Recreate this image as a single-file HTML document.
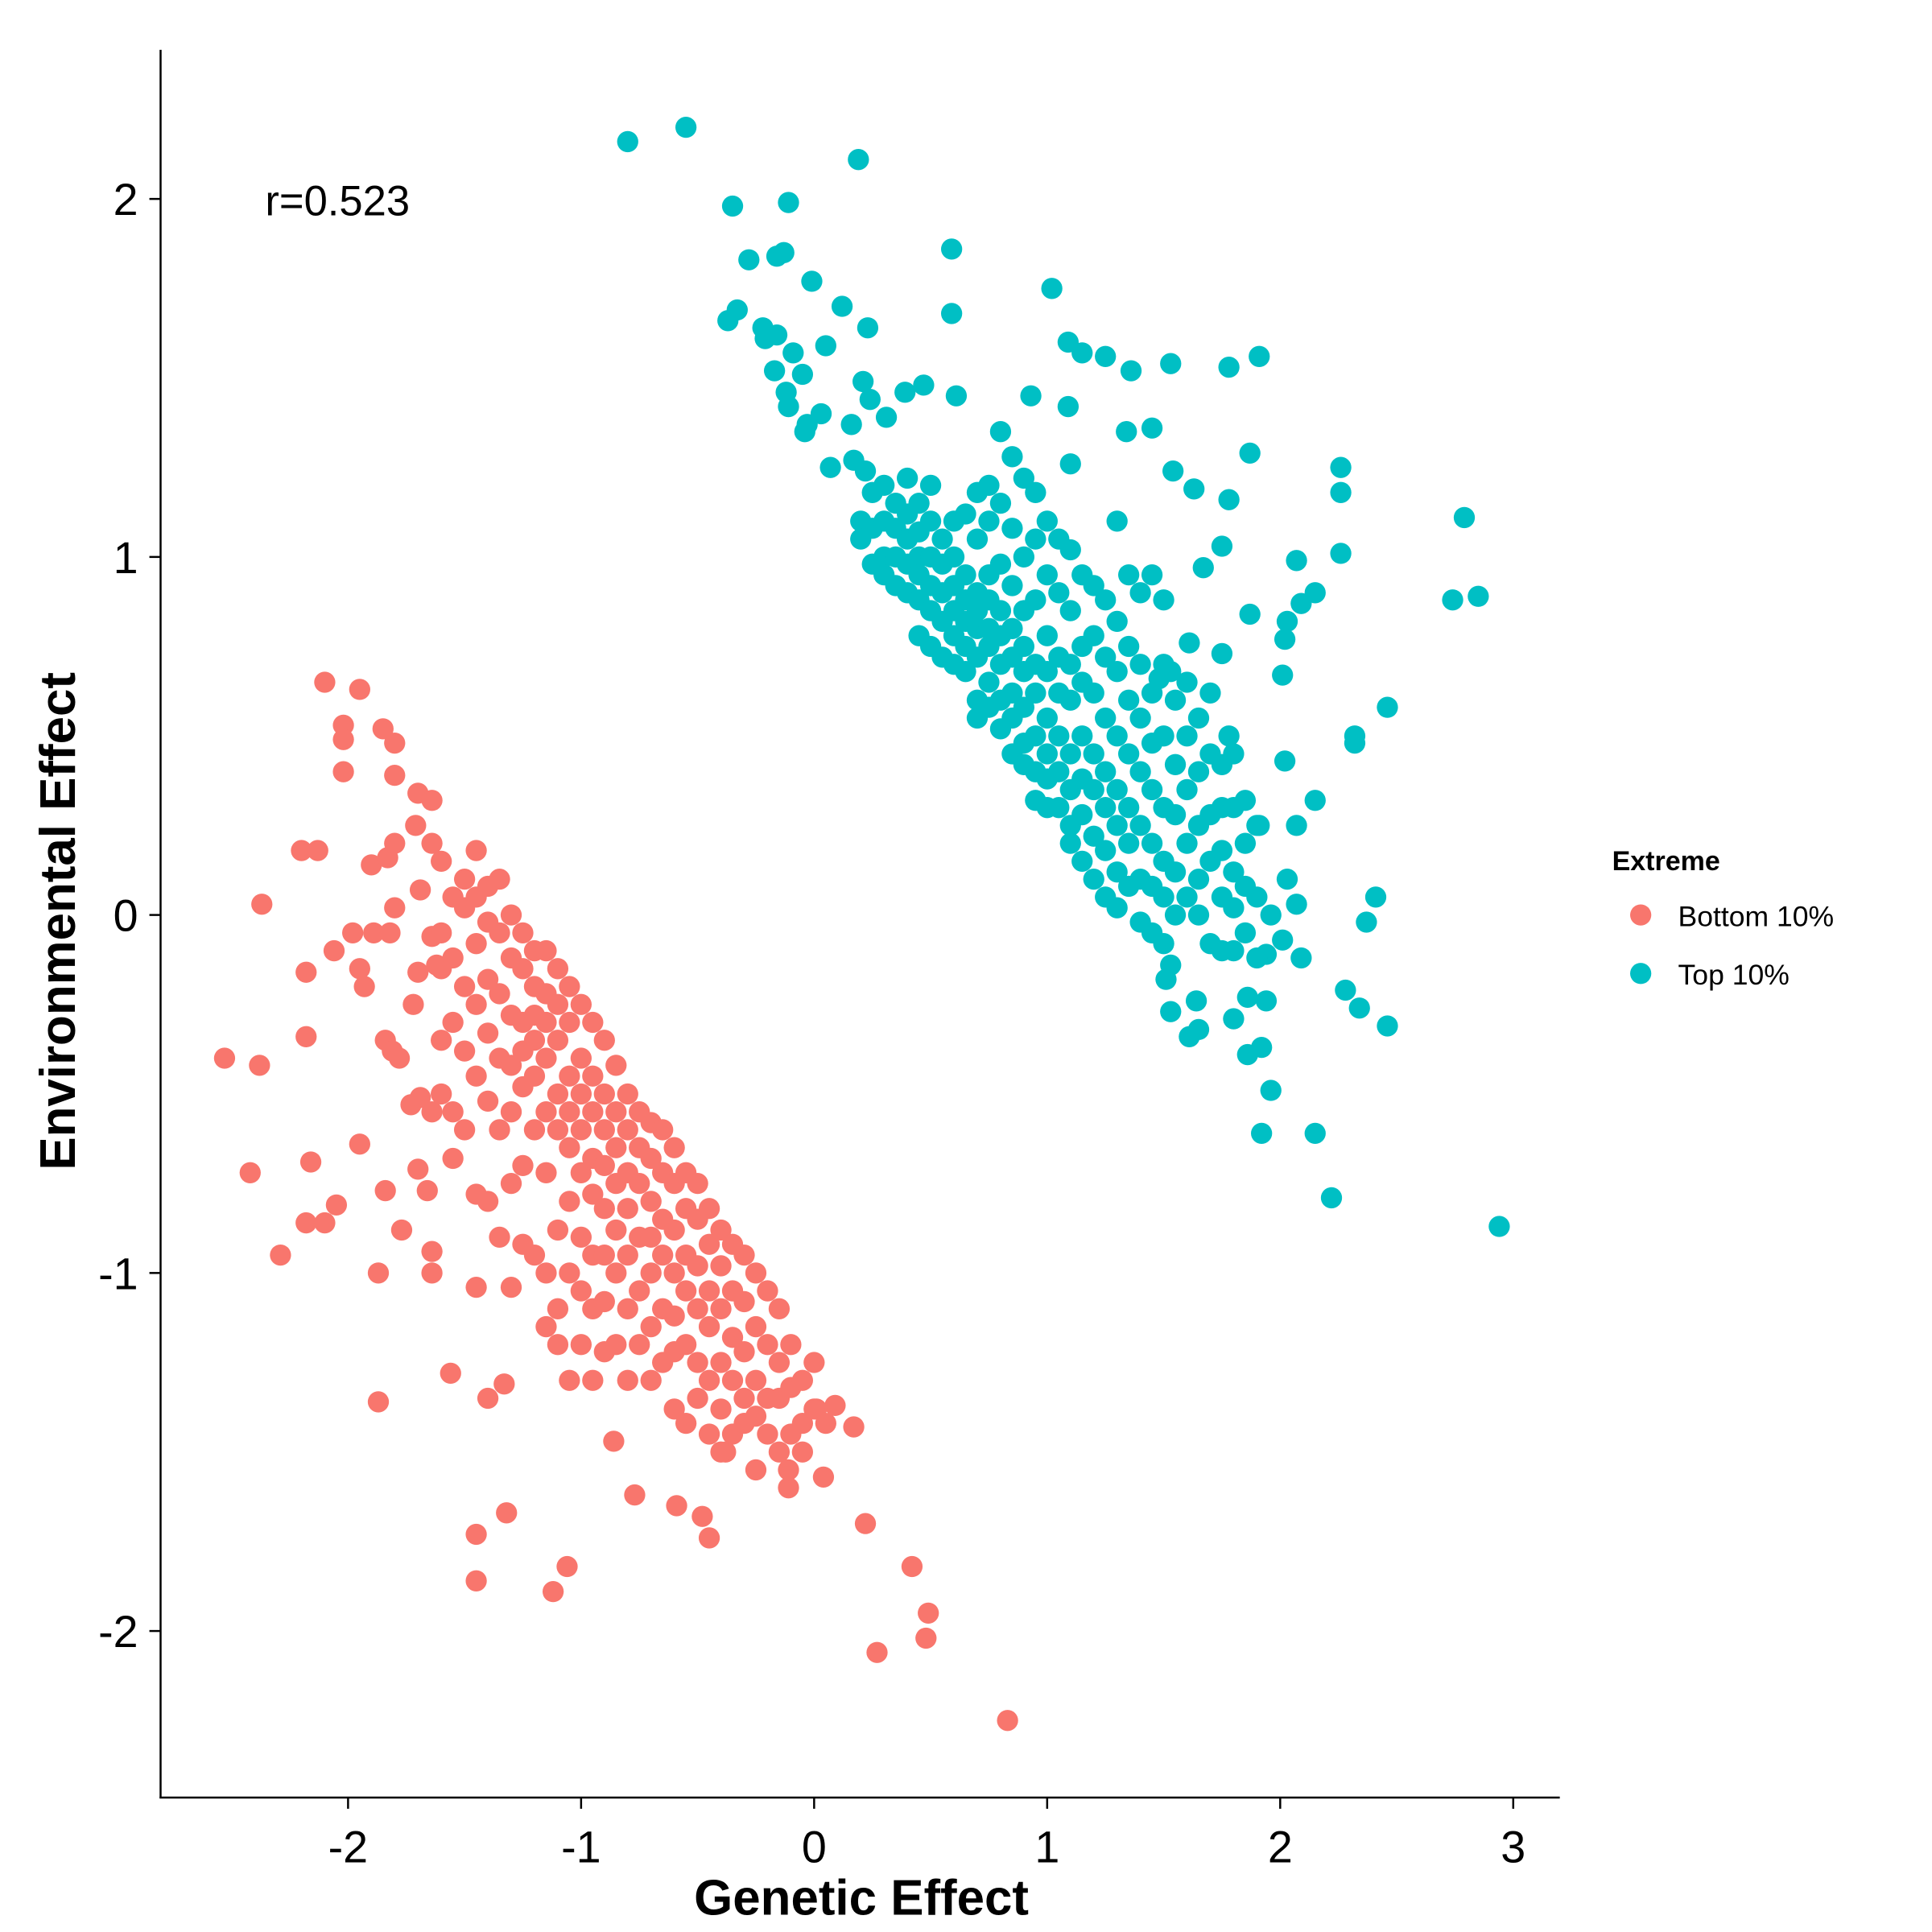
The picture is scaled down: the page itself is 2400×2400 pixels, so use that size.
<!DOCTYPE html>
<html><head><meta charset="utf-8"><style>
html,body{margin:0;padding:0;background:#fff}
svg{display:block}
text{font-family:"Liberation Sans",Arial,sans-serif;fill:#000}
</style></head><body>
<svg id="chart" width="2400" height="2400" viewBox="0 0 1552 1552" xmlns="http://www.w3.org/2000/svg">
<g id="points"></g>
<line x1="129" y1="40" x2="129" y2="1444.5" stroke="#000" stroke-width="1.6"/>
<line x1="128.2" y1="1444" x2="1253" y2="1444" stroke="#000" stroke-width="1.6"/>
<g id="ticks"></g>
<text x="692" y="1538" font-size="40" font-weight="bold" text-anchor="middle">Genetic Effect</text>
<text transform="translate(60,740) rotate(-90)" font-size="40" font-weight="bold" text-anchor="middle">Environmental Effect</text>
<text x="213" y="173" font-size="34">r=0.523</text>
<g>
<text x="1295" y="699" font-size="22" font-weight="bold">Extreme</text>
<circle cx="1318" cy="735" r="8.5" fill="#F8766D"/>
<text x="1348" y="744" font-size="23">Bottom 10%</text>
<circle cx="1318" cy="782" r="8.5" fill="#00BFC4"/>
<text x="1348" y="791" font-size="23">Top 10%</text>
</g>
</svg>
<script>
const xTicks=[-2,-1,0,1,2,3];
const yTicks=[-2,-1,0,1,2];
const bottomX=[-2.53,-2.38,-2.37,-2.42,-2.29,-2.10,-1.95,-2.02,-2.02,-2.02,-2.2,-2.13,-2.18,-2.18,-2.16,-2.18,-2.10,-2.05,-2.06,-1.98,-1.95,-1.93,-1.95,-1.87,-1.87,-1.84,-1.85,-1.80,-1.80,-1.90,-1.83,-1.80,-1.89,-1.82,-1.84,-1.81,-1.78,-1.77,-1.80,-1.70,-1.64,-1.71,-1.64,-1.69,-1.72,-1.70,-1.64,-1.64,-1.66,-1.70,-1.56,-1.45,-1.45,-1.32,-1.12,-1.06,-1.40,-1.33,-0.86,-0.77,-0.59,-0.48,-0.45,0.22,0.42,0.49,0.48,0.27,0.83,0.17,0.09,0.01,0.04,-0.11,-0.11,-0.25,-0.38,0,-1.73,-1.69,-1.64,-1.62,-1.64];
const bottomY=[-0.40,-0.42,0.03,-0.72,-0.95,0.65,0.63,0.53,0.49,0.40,0.18,0.18,-0.16,-0.34,-0.69,-0.86,-0.86,-0.81,-0.1,-0.05,-0.15,-0.2,-0.64,-1.36,-1.0,-0.77,0.52,0.48,0.39,0.14,0.16,0.2,-0.05,-0.05,-0.35,-0.38,-0.40,-0.88,0.02,0.34,0.32,0.25,0.20,0.07,-0.25,-0.16,-0.94,-1.0,-0.77,-0.71,-1.28,-1.73,-1.86,-1.67,-1.89,-1.82,-1.35,-1.31,-1.47,-1.62,-1.65,-1.68,-1.74,-1.70,-1.82,-1.95,-2.02,-2.06,-2.25,-1.43,-1.37,-1.38,-1.57,-1.60,-1.55,-1.55,-1.50,-1.25,-0.53,-0.51,-0.55,-0.14,-0.06];
const bottomCloudX=[-1.6,-1.55,-1.5,-1.45,-1.4,-1.35,-1.3,-1.25,-1.2,-1.15,-1.1,-1.05,-1.0,-0.95,-0.9,-0.85,-0.8,-0.75,-0.7,-0.65,-0.6,-0.55,-0.5,-0.45,-0.4,-0.35,-0.3,-0.25,-0.2,-0.15,-0.1,-0.05,0.0,0.05];
const bottomCloudY=[[0.15,-0.05,-0.15,-0.35,-0.5],[0.05,-0.12,-0.3,-0.55,-0.68],[0.1,0.02,-0.2,-0.38,-0.6],[0.18,0.05,-0.08,-0.25,-0.45,-0.78,-1.04],[0.08,-0.02,-0.18,-0.33,-0.52,-0.8],[0.1,-0.05,-0.22,-0.4,-0.6,-0.9],[0.0,-0.12,-0.28,-0.42,-0.55,-0.75,-1.04],[-0.05,-0.15,-0.3,-0.38,-0.48,-0.7,-0.92],[-0.1,-0.2,-0.28,-0.35,-0.45,-0.6,-0.95],[-0.1,-0.22,-0.3,-0.4,-0.55,-0.72,-1.0,-1.15],[-0.15,-0.25,-0.35,-0.5,-0.6,-0.88,-1.1,-1.2],[-0.2,-0.3,-0.45,-0.55,-0.65,-0.8,-1.0,-1.3],[-0.25,-0.4,-0.5,-0.6,-0.72,-0.9,-1.05,-1.2],[-0.3,-0.45,-0.55,-0.68,-0.78,-0.95,-1.1,-1.3],[-0.35,-0.5,-0.6,-0.7,-0.82,-0.95,-1.08,-1.22],[-0.42,-0.55,-0.65,-0.75,-0.88,-1.0,-1.2],[-0.5,-0.6,-0.72,-0.82,-0.95,-1.1,-1.3],[-0.55,-0.65,-0.75,-0.9,-1.05,-1.2],[-0.58,-0.68,-0.8,-0.9,-1.0,-1.15,-1.3],[-0.6,-0.72,-0.85,-0.95,-1.1,-1.25],[-0.65,-0.75,-0.88,-1.0,-1.12,-1.22,-1.38],[-0.72,-0.82,-0.95,-1.05,-1.2,-1.42],[-0.75,-0.85,-0.98,-1.1,-1.25,-1.35],[-0.82,-0.92,-1.05,-1.15,-1.3,-1.45],[-0.88,-0.98,-1.1,-1.25,-1.38,-1.5],[-0.92,-1.05,-1.18,-1.3,-1.45],[-0.95,-1.08,-1.22,-1.35,-1.42],[-1.0,-1.15,-1.3,-1.4],[-1.05,-1.2,-1.35,-1.45],[-1.1,-1.25,-1.35,-1.5],[-1.2,-1.32,-1.45],[-1.3,-1.42,-1.5],[-1.38],[-1.42]];
const topX=[-0.80,-0.55,0.19,-0.35,-0.11,-0.28,-0.16,-0.13,-0.01,0.59,1.02,0.59,-0.37,-0.33,0.12,0.23,0.05,1.09,1.15,1.25,1.36,1.53,1.78,1.91,-0.22,-0.16,-0.21,-0.09,-0.17,-0.05,-0.12,-0.11,-0.03,-0.04,0.03,0.16,0.21,0.24,0.31,0.39,0.47,0.61,0.07,0.17,0.22,0.93,1.09,1.10,1.34,1.45,1.87,1.54,1.63,1.78,2.26,2.26,2.26,2.07,2.15,2.09,2.03,2.02,2.79,2.85,2.74,2.46,2.32,2.32,2.01,2.02,2.15,2.07,2.41,2.37,2.03,2.07,2.01,2.09,2.28,2.34,2.46,2.15,2.22,2.94,1.92,1.96,1.86,1.92,1.94,1.86,1.80,1.53,1.61,1.65,1.64,1.51,1.53,1.94,1.96,1.91,1.75,1.67,1.87,1.75,1.78,1.61,1.53,1.48];
const topY=[2.16,2.20,2.11,1.98,1.99,1.83,1.84,1.85,1.77,1.86,1.75,1.68,1.66,1.69,1.70,1.64,1.59,1.60,1.57,1.56,1.52,1.54,1.53,1.56,1.64,1.62,1.61,1.57,1.52,1.51,1.46,1.42,1.37,1.35,1.40,1.37,1.49,1.44,1.39,1.46,1.48,1.45,1.25,1.27,1.24,1.45,1.42,1.26,1.35,1.36,1.29,1.24,1.19,1.16,1.25,1.18,1.01,0.99,0.90,0.87,0.82,0.77,1.11,0.89,0.88,0.58,0.50,0.48,0.67,0.43,0.32,0.25,0.05,-0.02,0.10,0.03,-0.07,-0.12,-0.21,-0.26,-0.31,-0.61,-0.79,-0.87,-0.61,-0.49,-0.39,-0.37,-0.24,-0.23,-0.29,-0.27,-0.34,-0.32,-0.24,-0.18,-0.14,-0.11,0.0,0.25,1.03,0.97,0.84,0.73,0.50,0.76,0.68,0.66];
const topCloudX=[0.2,0.25,0.3,0.35,0.4,0.45,0.5,0.55,0.6,0.65,0.7,0.75,0.8,0.85,0.9,0.95,1.0,1.05,1.1,1.15,1.2,1.25,1.3,1.35,1.4,1.45,1.5,1.55,1.6,1.65,1.7,1.75,1.8,1.85,1.9];
const topCloudY=[[1.1,1.05],[1.18,1.08,0.98],[1.2,1.1,1.0,0.95],[1.15,1.08,1.0,0.92],[1.22,1.12,1.05,0.98,0.9],[1.15,1.07,1.0,0.95,0.88,0.78],[1.2,1.1,1.0,0.92,0.85,0.75],[1.05,0.98,0.9,0.82,0.72],[1.1,1.0,0.92,0.85,0.78,0.7],[1.12,0.95,0.88,0.82,0.75,0.68],[1.18,1.05,0.9,0.85,0.8,0.72,0.6,0.55],[1.2,1.1,0.95,0.88,0.8,0.75,0.65,0.58],[1.35,1.15,0.98,0.85,0.78,0.7,0.6,0.52],[1.28,1.08,0.92,0.8,0.72,0.62,0.55,0.45],[1.22,1.0,0.85,0.75,0.68,0.58,0.48,0.42],[1.18,1.05,0.88,0.7,0.62,0.5,0.4,0.32],[1.1,0.95,0.78,0.68,0.55,0.45,0.38,0.3],[1.05,0.9,0.72,0.62,0.5,0.4,0.3],[1.02,0.85,0.7,0.6,0.45,0.35,0.25,0.2],[0.95,0.75,0.65,0.5,0.38,0.28,0.15],[0.92,0.78,0.62,0.45,0.35,0.22,0.1],[0.88,0.72,0.55,0.4,0.3,0.18,0.05],[1.1,0.82,0.68,0.5,0.35,0.25,0.12,0.02],[0.95,0.75,0.6,0.45,0.3,0.2,0.08],[0.9,0.7,0.55,0.4,0.25,0.1,-0.02],[0.95,0.62,0.48,0.35,0.2,0.08,-0.05],[0.88,0.7,0.5,0.3,0.15,0.05,-0.08],[0.6,0.42,0.28,0.12,0.0],[0.65,0.5,0.35,0.2,0.05],[0.55,0.4,0.25,0.1,0.0],[0.62,0.45,0.28,0.15,-0.08],[0.42,0.3,0.18,0.05,-0.1],[0.45,0.3,0.12,0.02,-0.1],[0.32,0.2,0.08,-0.05],[0.25,0.05,-0.12]];

function sx(v){return 654+v*187.2;}
function sy(v){return 735-v*287.6;}
const NS='http://www.w3.org/2000/svg';
const pg=document.getElementById('points');
function dot(x,y,color,name){
  const c=document.createElementNS(NS,'circle');
  c.setAttribute('cx',sx(x));c.setAttribute('cy',sy(y));c.setAttribute('r',8.5);c.setAttribute('fill',color);
  
  
  pg.appendChild(c);
}
bottomX.forEach((x,i)=>dot(x,bottomY[i],'#F8766D','point-bottom-10'));
bottomCloudX.forEach((x,i)=>bottomCloudY[i].forEach(y=>dot(x,y,'#F8766D','point-bottom-10')));
topX.forEach((x,i)=>dot(x,topY[i],'#00BFC4','point-top-10'));
topCloudX.forEach((x,i)=>topCloudY[i].forEach(y=>dot(x,y,'#00BFC4','point-top-10')));

const tg=document.getElementById('ticks');
xTicks.forEach(v=>{
  const l=document.createElementNS(NS,'line');
  l.setAttribute('x1',sx(v));l.setAttribute('x2',sx(v));l.setAttribute('y1',1444);l.setAttribute('y2',1453);l.setAttribute('stroke','#000');l.setAttribute('stroke-width','1.6');
  
  
  tg.appendChild(l);
  const t=document.createElementNS(NS,'text');
  t.setAttribute('x',sx(v));t.setAttribute('y',1496);t.setAttribute('font-size','36');t.setAttribute('text-anchor','middle');
  t.textContent=String(v);
  
  
  tg.appendChild(t);
});
yTicks.forEach(v=>{
  const l=document.createElementNS(NS,'line');
  l.setAttribute('x1',120);l.setAttribute('x2',129);l.setAttribute('y1',sy(v));l.setAttribute('y2',sy(v));l.setAttribute('stroke','#000');l.setAttribute('stroke-width','1.6');
  
  
  tg.appendChild(l);
  const t=document.createElementNS(NS,'text');
  t.setAttribute('x',111);t.setAttribute('y',sy(v)+13);t.setAttribute('font-size','36');t.setAttribute('text-anchor','end');
  t.textContent=String(v);
  
  
  tg.appendChild(t);
});
</script>
</body></html>
